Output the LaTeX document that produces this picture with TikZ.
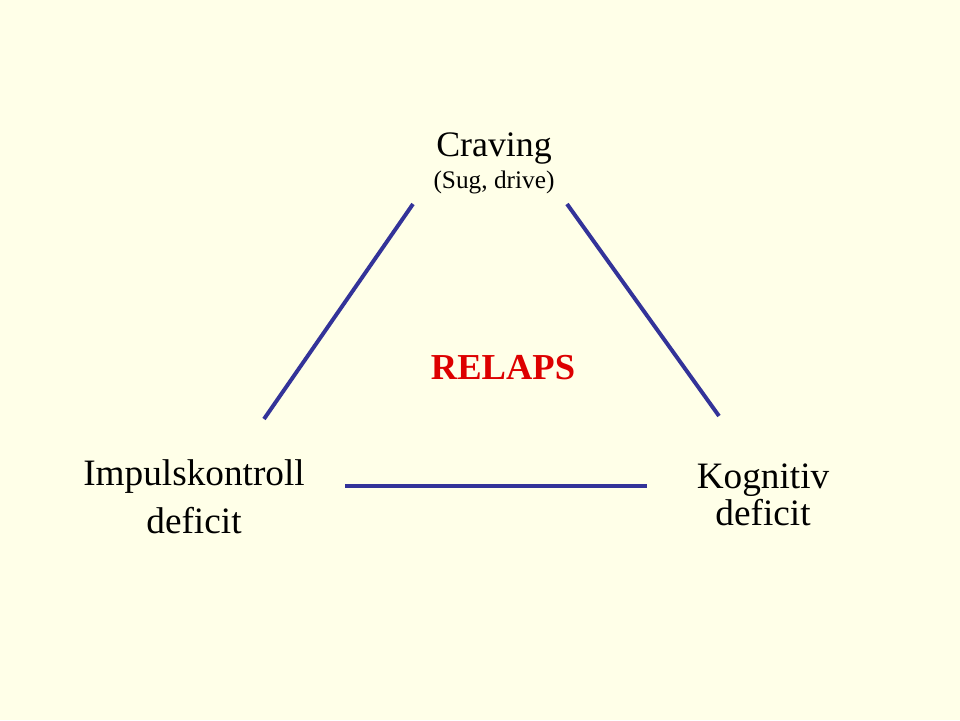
\documentclass[tikz,border=0pt]{standalone}
\usepackage{fontspec}
\setmainfont{Liberation Serif}
\usepackage{tikz}
\usepackage{xcolor}
\usetikzlibrary{positioning,calc,backgrounds}
\definecolor{paper}{RGB}{255,255,232}
\definecolor{linkblue}{RGB}{51,51,153}
\definecolor{relapsred}{RGB}{221,0,0}

\begin{document}
\begin{tikzpicture}[
    label/.style={anchor=base, inner sep=0pt, font=\fontsize{26.5}{31}\selectfont},
    toplabel/.style={label, font=\fontsize{25.5}{30}\selectfont},
    sublabel/.style={anchor=base, inner sep=0pt, font=\fontsize{18}{22}\selectfont},
    centre/.style={anchor=base, inner sep=0pt, text=relapsred,
                   font=\fontsize{26}{31}\selectfont\bfseries},
    link/.style={draw=linkblue, line width=2.8pt}
  ]
  % page
  \fill[paper] (0,0) rectangle (24,18);
  \useasboundingbox (0,0) rectangle (24,18);

  % top corner
  \node[toplabel] (crave) at (12.35, 14.075) {Craving};
  \node[sublabel] (cravesub) at (12.35, 13.275) {(Sug, drive)};

  % middle
  \node[centre] (relaps) at (12.575, 8.525) {RELAPS};

  % bottom corners
  \node[label] (impuls) at (4.85, 5.875) {Impulskontroll};
  \node[label] (impulsdef) at (4.85, 4.675) {deficit};
  \node[label] (kogn) at (19.075, 5.8) {Kognitiv};
  \node[label] (kogndef) at (19.075, 4.875) {deficit};

  % line ends
  \coordinate (lt) at (10.325, 12.9);
  \coordinate (lb) at (6.6, 7.525);
  \coordinate (rt) at (14.175, 12.9);
  \coordinate (rb) at (17.975, 7.6);
  \coordinate (bl) at (8.625, 5.85);
  \coordinate (br) at (16.175, 5.85);

  % triangle sides
  \draw[link] (lt) -- (lb);
  \draw[link] (rt) -- (rb);
  \draw[link] (bl) -- (br);
\end{tikzpicture}
\end{document}
